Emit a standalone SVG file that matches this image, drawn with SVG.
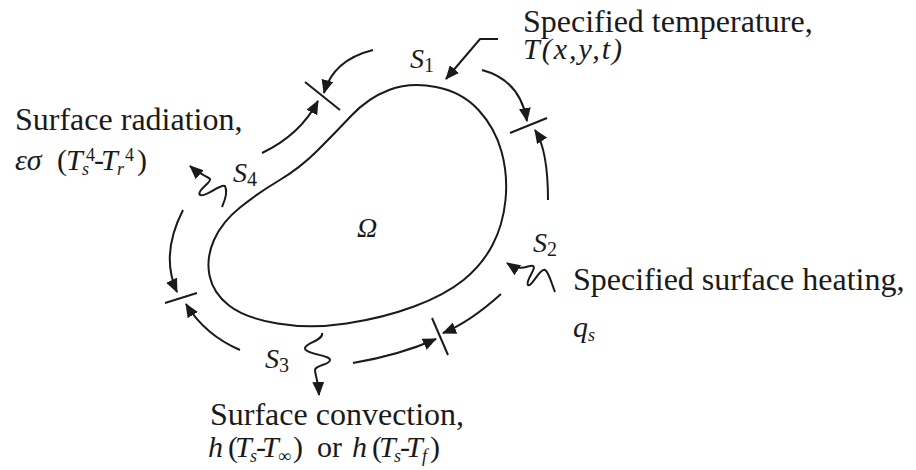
<svg xmlns="http://www.w3.org/2000/svg" width="916" height="470" viewBox="0 0 916 470">
<style>
.t{font-family:"Liberation Serif","Times New Roman",serif;font-size:32px;fill:#1a1a1a}
.m{font-family:"Liberation Serif","Times New Roman",serif;font-size:30px;font-style:italic;fill:#1a1a1a}
.u{font-style:normal}
.sm{font-size:18px}
.lbl{font-family:"Liberation Serif","Times New Roman",serif;font-size:28px;font-style:italic;fill:#1a1a1a}
.sub{font-size:20px;font-style:normal}
.ln{fill:none;stroke:#1a1a1a;stroke-width:2}
.arr{fill:none;stroke:#1a1a1a;stroke-width:2;marker-end:url(#ah)}
</style>
<defs>
<marker id="ah" viewBox="0 0 14 12" refX="13" refY="6" markerWidth="14" markerHeight="12" markerUnits="userSpaceOnUse" orient="auto">
<path d="M0,0 L14,6 L0,12 Z" fill="#1a1a1a"/>
</marker>
</defs>
<rect width="916" height="470" fill="#ffffff"/>
<g id="domain">
<path class="ln" d="M436,87 Q462,92 478.5,110 Q495,128 501.5,151.5 Q508,175 505.5,200 Q503,225 492.5,245 Q482,265 463.5,280 Q445,295 414,306.5 Q383,318 346.5,323.5 Q310,329 277.5,323.5 Q245,318 229,305.5 Q213,293 209.5,275.5 Q206,258 214,240 Q222,222 240,207.5 Q258,193 279,180.5 Q300,168 317.5,150.5 Q335,133 351.5,115.5 Q368,98 389,90 Q410,82 436,87 Z"/>
<text class="lbl" x="357" y="237">Ω</text>
</g>
<g id="connectors">
<path class="arr" d="M498,39 L480,39 L446,79"/>
<path class="arr" d="M373,50 Q333,60 324,93"/>
<path class="arr" d="M262,153 Q300,135 318,101"/>
<path class="ln" d="M305,82 L340,110"/>
<path class="arr" d="M482,70 Q520,80 527,121"/>
<path class="arr" d="M548,200 Q548,150 535,130"/>
<path class="ln" d="M510,133 L547,118"/>
<path class="arr" d="M501,294 Q470,322 443,333"/>
<path class="arr" d="M353,363 Q400,355 436,339"/>
<path class="ln" d="M432,318 L448,355"/>
<path class="arr" d="M183,210 Q160,255 177,292"/>
<path class="arr" d="M240,350 Q205,335 186,304"/>
<path class="ln" d="M165,303 L197,293"/>
<path class="arr" d="M222,207 C226,198 227,190 225,186 C221,183 205,198 200,195 C196,191 212,182 210,179 C207,176 200,175 190,166"/>
<path class="arr" d="M555,292 C552,285 549,272 545,270 C540,268 531,288 528,285 C525,281 537,268 533,266 C529,264 522,273 507,263"/>
<path class="arr" d="M322,333 C324,340 306,343 305,348 C304,354 330,355 330,360 C330,365 315,365 315,370 C315,375 318,378 319,395"/>
</g>
<g id="S1"><text class="lbl" x="410" y="68">S<tspan class="sub" dy="4">1</tspan></text></g>
<g id="S2"><text class="lbl" x="533" y="252">S<tspan class="sub" dy="4">2</tspan></text></g>
<g id="S3"><text class="lbl" x="265" y="368">S<tspan class="sub" dy="4">3</tspan></text></g>
<g id="S4"><text class="lbl" x="233" y="182">S<tspan class="sub" dy="4">4</tspan></text></g>
<g id="temp">
<text class="t" x="523" y="32">Specified temperature,</text>
<text class="m" x="523" y="59" letter-spacing="2">T(x,y,t)</text>
</g>
<g id="heat">
<text class="t" x="573" y="290">Specified surface heating,</text>
<text class="m" x="573" y="337">q<tspan class="sm" dy="4">s</tspan></text>
</g>
<g id="rad">
<text class="t" x="15" y="130">Surface radiation,</text>
<text class="m" x="15" y="170">εσ<tspan class="u" x="57" y="170">(</tspan><tspan x="66" y="170">T</tspan><tspan class="sm" x="82" y="175">s</tspan><tspan class="u sm" x="86" y="161">4</tspan><tspan class="u" x="94" y="170">-</tspan><tspan x="101" y="170">T</tspan><tspan class="sm" x="117" y="175">r</tspan><tspan class="u sm" x="125" y="161">4</tspan><tspan class="u" x="137" y="170">)</tspan></text>
</g>
<g id="conv">
<text class="t" x="210" y="425">Surface convection,</text>
<text class="m" x="208" y="457">h<tspan class="u" x="228" y="457">(</tspan><tspan x="235" y="457">T</tspan><tspan class="sm" x="250" y="462">s</tspan><tspan class="u" x="256" y="457">-</tspan><tspan x="262" y="457">T</tspan><tspan class="u sm" x="278" y="462">∞</tspan><tspan class="u" x="293" y="457">)</tspan><tspan class="u" x="317" y="457">or</tspan><tspan x="352" y="457">h</tspan><tspan class="u" x="372" y="457">(</tspan><tspan x="379" y="457">T</tspan><tspan class="sm" x="394" y="462">s</tspan><tspan class="u" x="400" y="457">-</tspan><tspan x="406" y="457">T</tspan><tspan class="sm" x="422" y="462">f</tspan><tspan class="u" x="430" y="457">)</tspan></text>
</g>
</svg>
